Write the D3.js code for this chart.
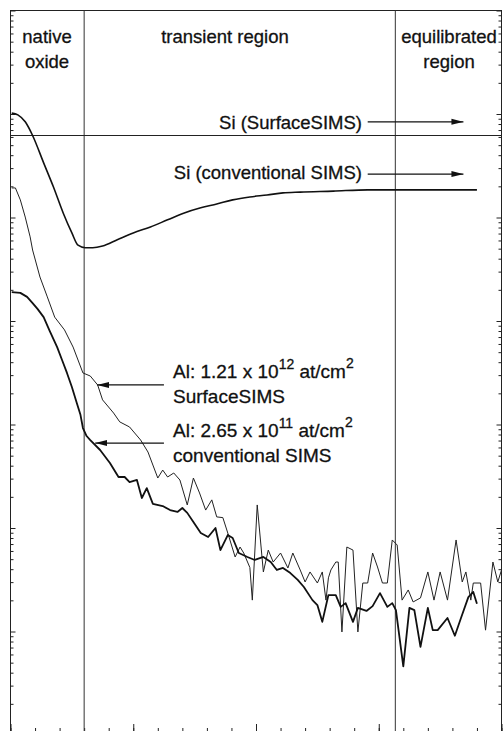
<!DOCTYPE html>
<html>
<head>
<meta charset="utf-8">
<script src="https://cdn.jsdelivr.net/npm/d3@7"></script>
<style>
  html, body { margin: 0; padding: 0; background: #fff; }
  svg { display: block; }
  text { font-family: "Liberation Sans", Arial, Helvetica, sans-serif; fill: #111; stroke: #111; stroke-width: 0.3px; }
</style>
</head>
<body>
<svg id="chart" width="503" height="731"></svg>
<script>
// ---------------- DATA ----------------
// depth (arbitrary units, 0..4), signal counts (log scale, 1..1e7)
const xMajorTicks = [0, 1, 2, 3, 4];
const xMinorTicks = d3.range(0, 4.001, 0.2);
const yDomain = [1, 1e7];
const regionBoundaries = [0.6, 3.135];

// Si, SurfaceSIMS (flat reference level)
const siSurface = [[0, 6.2e5], [4, 6.2e5]];

// Si, conventional SIMS
const siConventional = [
  [0.01,1.02e6],[0.06,9.8e5],[0.12,8.4e5],[0.18,6.2e5],[0.27,3.37e5],[0.35,1.97e5],
  [0.43,1.1e5],[0.50,7.1e4],[0.55,5.4e4],[0.61,5.1e4],[0.67,5.1e4],[0.75,5.3e4],
  [0.87,6.1e4],[1.00,7.1e4],[1.14,8.1e4],[1.28,9.5e4],[1.41,1.1e5],[1.55,1.24e5],
  [1.68,1.35e5],[1.81,1.48e5],[1.95,1.58e5],[2.09,1.65e5],[2.22,1.73e5],[2.36,1.76e5],
  [2.63,1.8e5],[2.91,1.85e5],[3.18,1.85e5],[3.45,1.85e5],[3.80,1.85e5]
];

// Al, SurfaceSIMS (1.21e12 at/cm2) - thin line
const alSurface = [
  [0.01,1.93e5],[0.04,1.93e5],[0.08,1.48e5],[0.12,1.01e5],[0.16,6.5e4],[0.18,4.85e4],
  [0.24,2.66e4],[0.30,1.71e4],[0.36,1.09e4],[0.44,8.2e3],[0.51,5.6e3],[0.59,3.15e3],
  [0.65,2.94e3],[0.71,2.41e3],[0.75,1.73e3],[0.84,1.29e3],[0.89,1.06e3],[0.97,946],
  [1.06,708],[1.12,542],[1.16,406],[1.20,304],[1.24,363],[1.28,311],[1.33,340],
  [1.38,291],[1.44,167],[1.49,304],[1.54,218],[1.59,149],[1.64,187],[1.68,128],
  [1.73,126],[1.77,89.5],[1.83,52.5],[1.87,65.5],[1.90,57.3],[1.95,41.5],[1.97,20.1],
  [2.01,167],[2.06,37.6],[2.10,61.2],[2.14,46.9],[2.20,57.3],[2.26,41.1],[2.30,57.3],
  [2.36,39.3],[2.40,30.1],[2.44,37.6],[2.50,29.4],[2.54,37.6],[2.57,20.1],[2.59,33],
  [2.61,39.3],[2.65,46.9],[2.67,46.9],[2.70,9.9],[2.74,65.5],[2.79,61.2],[2.83,9.9],
  [2.87,29.4],[2.91,29.4],[2.95,57.3],[2.99,42],[3.03,29.4],[3.07,29.4],[3.11,76.6],
  [3.15,68.5],[3.19,20.1],[3.24,25.2],[3.28,19.3],[3.34,21.1],[3.40,37.6],[3.45,20.1],
  [3.50,37.6],[3.56,20.1],[3.63,76.6],[3.68,30.1],[3.71,37.6],[3.75,20.1],[3.77,29.4],
  [3.83,29.4],[3.87,10.3],[3.93,46.9],[3.97,30.1],[4.00,39.3]
];

// Al, conventional SIMS (2.65e11 at/cm2) - thick line
const alConventional = [
  [0.01,1.9e4],[0.08,1.87e4],[0.135,1.71e4],[0.18,1.49e4],[0.22,1.31e4],[0.27,1.09e4],
  [0.32,8.0e3],[0.38,5.6e3],[0.42,4.2e3],[0.46,3.15e3],[0.50,2.3e3],[0.54,1.61e3],
  [0.57,1.24e3],[0.59,925],[0.62,774],[0.65,708],[0.73,567],[0.81,425],[0.88,311],
  [0.93,311],[0.97,278],[1.03,291],[1.07,195],[1.11,243],[1.16,171],[1.24,163],
  [1.30,149],[1.36,143],[1.40,156],[1.44,140],[1.49,114],[1.55,89.5],[1.61,81.8],
  [1.67,100],[1.71,61.2],[1.77,85.5],[1.81,80],[1.86,57.3],[1.93,52.5],[1.99,49.1],
  [2.06,52.5],[2.12,46.9],[2.17,39.3],[2.22,41.1],[2.28,36.7],[2.34,31.5],[2.39,26.9],
  [2.46,20.1],[2.50,18],[2.54,12.4],[2.59,22.5],[2.65,22.5],[2.69,17.3],[2.73,18.8],
  [2.79,12.4],[2.83,16.9],[2.90,15.8],[2.95,17.6],[3.01,23.5],[3.07,17.3],[3.11,18.8],
  [3.14,16.1],[3.20,4.6],[3.25,16.9],[3.29,16.1],[3.34,7.1],[3.40,16.9],[3.44,10.3],
  [3.48,10.3],[3.56,13.5],[3.62,9.1],[3.67,13.5],[3.73,21.5],[3.77,24.1],[3.80,18.5]
];

// annotation arrows (data coordinates): from -> to (arrowhead at "to")
const siArrows = [
  { x0: 2.91, x1: 3.69, y: 8.4e5 },
  { x0: 2.91, x1: 3.69, y: 2.63e5 }
];
const alArrows = [
  { x0: 1.25, x1: 0.705, y: 2.41e3 },
  { x0: 1.25, x1: 0.69, y: 662 }
];

// ---------------- LAYOUT ----------------
const L = 10.5, R = 501.5, T = 10.5, B = 735;
const svg = d3.select("#chart");
const x = d3.scaleLinear().domain([0, 4]).range([L, R]);
const y = d3.scaleLog().domain(yDomain).range([B, T]);

const defs = svg.append("defs");
defs.append("marker").attr("id", "head")
  .attr("viewBox", "0 -4 12 8").attr("refX", 12).attr("refY", 0)
  .attr("markerUnits", "userSpaceOnUse")
  .attr("markerWidth", 12).attr("markerHeight", 8).attr("orient", "auto")
  .append("path").attr("d", "M0,-3L12,0L0,3Z").attr("fill", "#111");

// frame
svg.append("rect").attr("x", L).attr("y", T).attr("width", R - L).attr("height", B - T)
  .attr("fill", "none").attr("stroke", "#222").attr("stroke-width", 1);

// axes (ticks inside, no labels)
const noLab = () => "";
const yMajor = d3.range(0, 8).map(k => Math.pow(10, k));
const yMinor = [];
for (let k = 0; k < 7; k++) for (let m = 2; m <= 9; m++) yMinor.push(m * Math.pow(10, k));

function styleAxis(g) {
  g.select(".domain").remove();
  g.selectAll("line").attr("stroke", "#222").attr("stroke-width", 1);
}
svg.append("g").attr("transform", `translate(${L},0)`)
  .call(d3.axisLeft(y).tickValues(yMajor).tickSize(-5).tickFormat(noLab)).call(styleAxis);
svg.append("g").attr("transform", `translate(${L},0)`)
  .call(d3.axisLeft(y).tickValues(yMinor).tickSize(-3).tickFormat(noLab)).call(styleAxis);
svg.append("g").attr("transform", `translate(${R},0)`)
  .call(d3.axisRight(y).tickValues(yMajor).tickSize(-5).tickFormat(noLab)).call(styleAxis);
svg.append("g").attr("transform", `translate(${R},0)`)
  .call(d3.axisRight(y).tickValues(yMinor).tickSize(-3).tickFormat(noLab)).call(styleAxis);
svg.append("g").attr("transform", `translate(0,${B})`)
  .call(d3.axisBottom(x).tickValues(xMinorTicks).tickSize(-7).tickFormat(noLab)).call(styleAxis);
svg.append("g").attr("transform", `translate(0,${B})`)
  .call(d3.axisBottom(x).tickValues(xMajorTicks).tickSize(-11).tickFormat(noLab)).call(styleAxis);

// region boundaries
svg.selectAll(".region").data(regionBoundaries).enter().append("line")
  .attr("x1", d => x(d)).attr("x2", d => x(d)).attr("y1", T).attr("y2", B)
  .attr("stroke", "#333").attr("stroke-width", 1);

// lines
const lineLin = d3.line().x(d => x(d[0])).y(d => y(d[1]));
const lineSmooth = d3.line().x(d => x(d[0])).y(d => y(d[1])).curve(d3.curveMonotoneX);

svg.append("path").datum(siSurface).attr("d", lineLin)
  .attr("fill", "none").attr("stroke", "#222").attr("stroke-width", 1.1);
svg.append("path").datum(siConventional).attr("d", lineSmooth)
  .attr("fill", "none").attr("stroke", "#111").attr("stroke-width", 1.6);
svg.append("path").datum(alSurface).attr("d", lineLin)
  .attr("fill", "none").attr("stroke", "#222").attr("stroke-width", 1.0).attr("stroke-linejoin", "round");
svg.append("path").datum(alConventional).attr("d", lineLin)
  .attr("fill", "none").attr("stroke", "#111").attr("stroke-width", 1.8).attr("stroke-linejoin", "round");

// arrows
svg.selectAll(".arr").data(siArrows.concat(alArrows)).enter().append("line")
  .attr("x1", d => x(d.x0)).attr("x2", d => x(d.x1))
  .attr("y1", d => y(d.y)).attr("y2", d => y(d.y))
  .attr("stroke", "#111").attr("stroke-width", 1.2).attr("marker-end", "url(#head)");

// texts
function label(tx, ty, str, anchor, size) {
  return svg.append("text").attr("x", tx).attr("y", ty)
    .attr("text-anchor", anchor || "start").attr("font-size", size || 18.5).text(str);
}
label(47, 43, "native", "middle");
label(47, 68, "oxide", "middle");
label(225, 43, "transient region", "middle");
label(449, 43, "equilibrated", "middle");
label(449, 68, "region", "middle");
label(362, 129, "Si (SurfaceSIMS)", "end");
label(362, 179, "Si (conventional SIMS)", "end");

function alLabel(ty, mant, exp) {
  const t = svg.append("text").attr("x", 173).attr("y", ty).attr("font-size", 19);
  t.append("tspan").text(`Al: ${mant} x 10`);
  t.append("tspan").attr("dy", -9).attr("font-size", 14).text(exp);
  t.append("tspan").attr("dy", 9).text(" at/cm");
  t.append("tspan").attr("dy", -10).attr("font-size", 14).text("2");
}
alLabel(378, "1.21", "12");
label(173, 403, "SurfaceSIMS", "start", 19);
alLabel(437, "2.65", "11");
label(173, 462, "conventional SIMS", "start", 19);
</script>
</body>
</html>
